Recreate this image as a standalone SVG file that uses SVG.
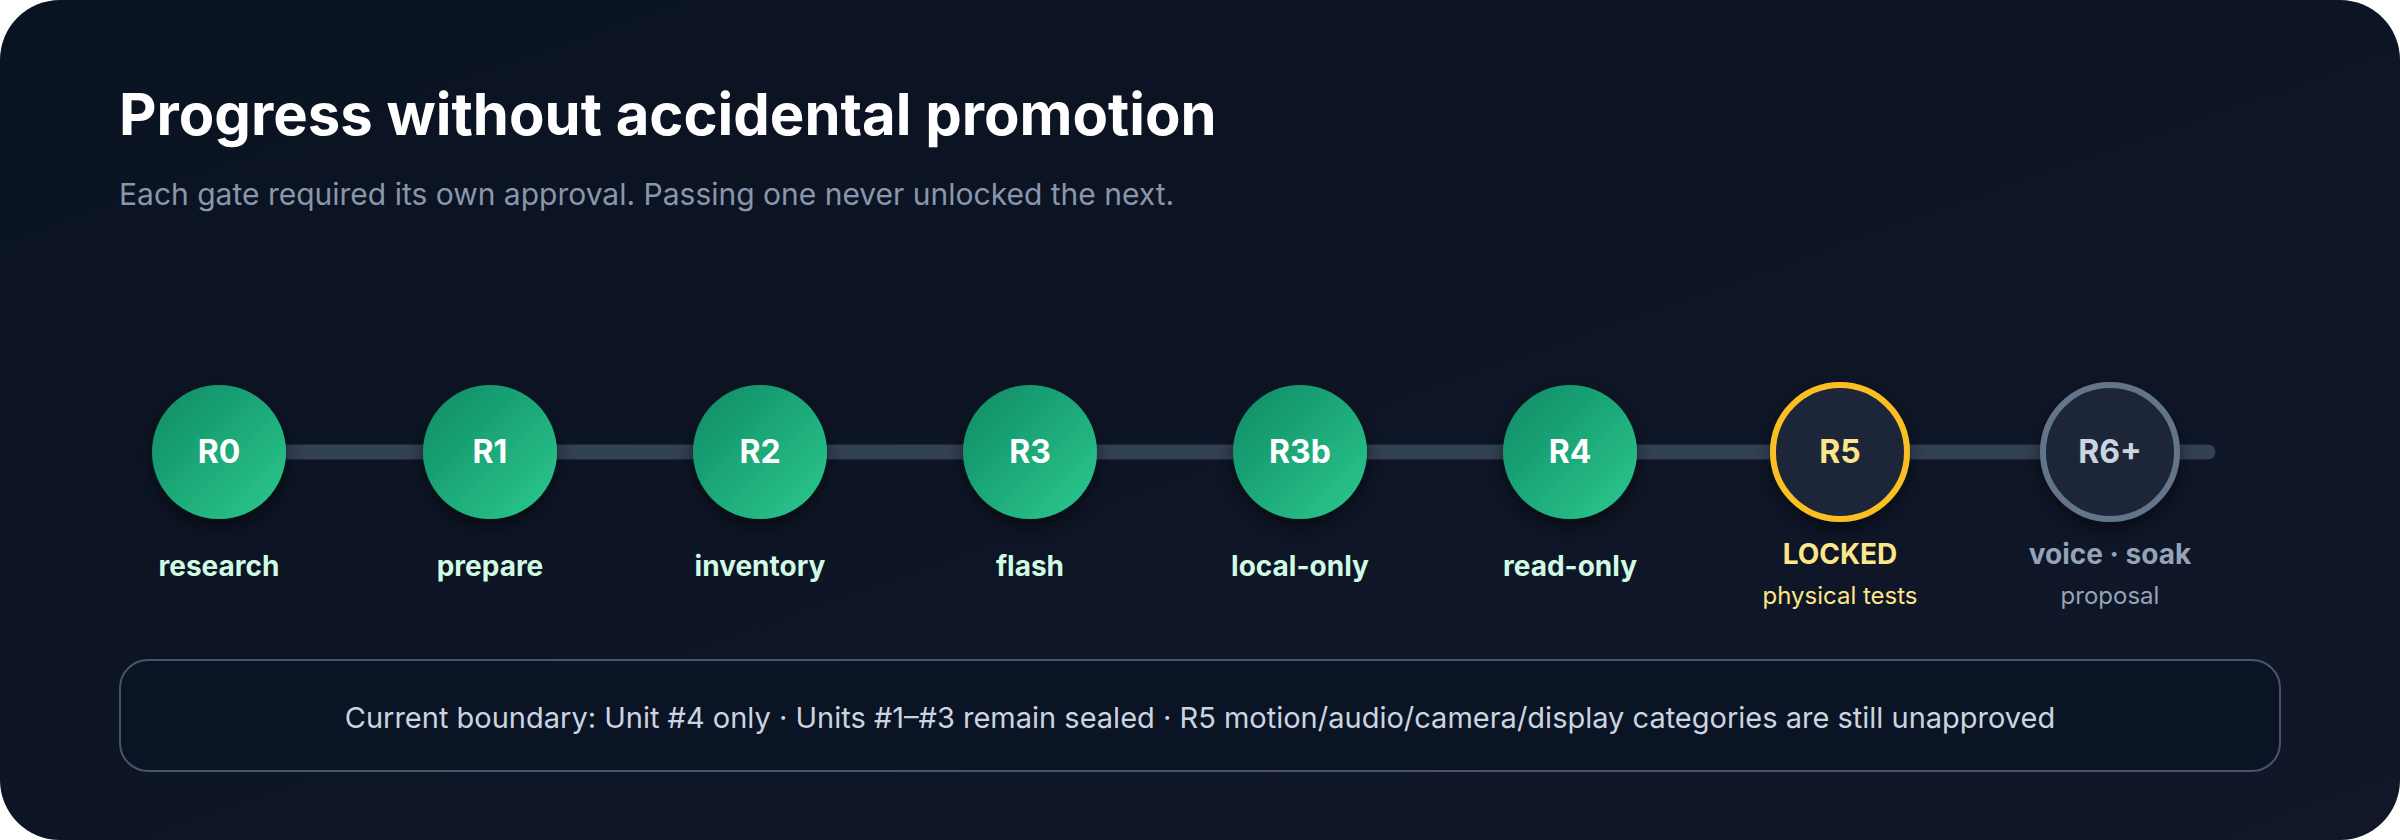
<svg xmlns="http://www.w3.org/2000/svg" width="2400" height="840" viewBox="0 0 2400 840">
<defs>
<linearGradient id="bg" x1="0" y1="0" x2="1" y2="1"><stop offset="0" stop-color="#0a1322"/><stop offset="1" stop-color="#111729"/></linearGradient>
<linearGradient id="green" x1="0" y1="0" x2="1" y2="1"><stop offset="0" stop-color="#0d8a64"/><stop offset="1" stop-color="#2dc98e"/></linearGradient>
<filter id="sh" x="-50%" y="-50%" width="200%" height="200%"><feDropShadow dx="0" dy="8" stdDeviation="10" flood-color="#000" flood-opacity="0.5"/></filter>
<style>
text{font-family:Inter,"Noto Sans","Liberation Sans",sans-serif;text-anchor:middle}
.title{font-size:58px;font-weight:700;fill:#ffffff;text-anchor:start}
.sub{font-size:30px;fill:#8a96ab;text-anchor:start}
.done{fill:url(#green);filter:url(#sh)}
.num{font-size:32px;font-weight:700;fill:#ffffff}
.lbl{font-size:28px;font-weight:700;fill:#d1fae5}
.lock{fill:#1c2738;stroke:#fbbf24;stroke-width:6;filter:url(#sh)}
.prop{fill:#1c2738;stroke:#64748b;stroke-width:6;filter:url(#sh)}
</style>
</defs>
<rect width="2400" height="840" fill="#ffffff"/>
<rect width="2400" height="840" rx="60" fill="url(#bg)"/>
<text class="title" x="119" y="135">Progress without accidental promotion</text>
<text class="sub" x="119" y="205">Each gate required its own approval. Passing one never unlocked the next.</text>
<g id="connectors"><line x1="219" y1="452" x2="2208" y2="452" stroke="#334155" stroke-width="15" stroke-linecap="round"/></g>
<g id="r0"><circle class="done" cx="219" cy="452" r="67"/><text class="num" x="219" y="463">R0</text><text class="lbl" x="219" y="576">research</text></g>
<g id="r1"><circle class="done" cx="490" cy="452" r="67"/><text class="num" x="490" y="463">R1</text><text class="lbl" x="490" y="576">prepare</text></g>
<g id="r2"><circle class="done" cx="760" cy="452" r="67"/><text class="num" x="760" y="463">R2</text><text class="lbl" x="760" y="576">inventory</text></g>
<g id="r3"><circle class="done" cx="1030" cy="452" r="67"/><text class="num" x="1030" y="463">R3</text><text class="lbl" x="1030" y="576">flash</text></g>
<g id="r3b"><circle class="done" cx="1300" cy="452" r="67"/><text class="num" x="1300" y="463">R3b</text><text class="lbl" x="1300" y="576">local-only</text></g>
<g id="r4"><circle class="done" cx="1570" cy="452" r="67"/><text class="num" x="1570" y="463">R4</text><text class="lbl" x="1570" y="576">read-only</text></g>
<g id="r5"><circle class="lock" cx="1840" cy="452" r="67"/><text class="num" x="1840" y="463" style="fill:#fde68a">R5</text><text class="lbl" x="1840" y="564" style="fill:#fde68a">LOCKED</text><text x="1840" y="604" font-size="24" fill="#fde68a">physical tests</text></g>
<g id="r6"><circle class="prop" cx="2110" cy="452" r="67"/><text class="num" x="2110" y="463" style="fill:#cbd5e1">R6+</text><text class="lbl" x="2110" y="564" style="fill:#94a3b8">voice · soak</text><text x="2110" y="604" font-size="24" fill="#94a3b8">proposal</text></g>
<g id="boundary"><rect x="120" y="660" width="2160" height="111" rx="28" fill="#0b1424" stroke="#475569" stroke-width="2"/><text x="1200" y="728" font-size="29" fill="#cbd5e1">Current boundary: Unit #4 only · Units #1–#3 remain sealed · R5 motion/audio/camera/display categories are still unapproved</text></g>
</svg>
